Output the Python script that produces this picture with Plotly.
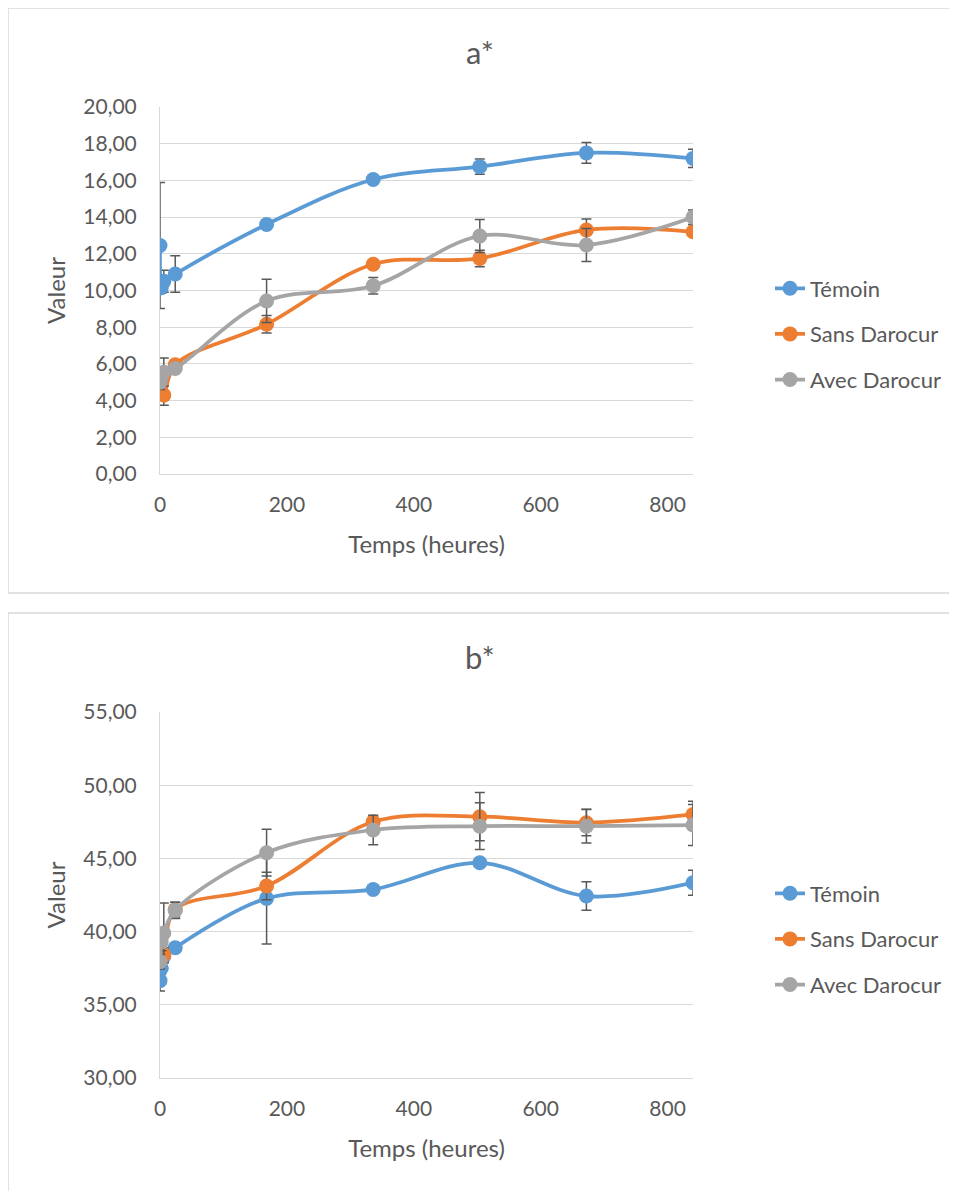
import plotly.graph_objects as go

# page is 957x1191, the html body adds an 8px margin
OFF = 8
W, H = 957 - OFF, 1191 - OFF

temps = [0, 2, 6, 24, 168, 336, 504, 672, 840]
series_names = ["Témoin", "Sans Darocur", "Avec Darocur"]

a_temoin = [12.45, 10.15, 10.5, 10.9, 13.6, 16.05, 16.75, 17.5, 17.2]
a_temoin_err = [3.43, 0.3, 0.6, 1.0, 0.15, 0.15, 0.42, 0.56, 0.5]
a_sans = [4.85, 5.0, 4.3, 5.95, 8.16, 11.43, 11.75, 13.3, 13.2]
a_sans_err = [0.3, 0.3, 0.55, 0.15, 0.48, 0.2, 0.45, 0.6, 0.2]
a_avec = [5.0, 5.3, 5.55, 5.75, 9.43, 10.26, 12.97, 12.48, 13.99]
a_avec_err = [0.4, 0.5, 0.77, 0.2, 1.18, 0.45, 0.9, 0.9, 0.4]

b_temoin = [36.65, 37.5, 38.3, 38.9, 42.27, 42.88, 44.7, 42.43, 43.34]
b_temoin_err = [0.7, 0.4, 0.4, 0.3, 3.12, 0.3, 0.3, 0.97, 0.85]
b_sans = [38.0, 38.2, 38.4, 41.5, 43.11, 47.5, 47.85, 47.44, 48.0]
b_sans_err = [0.4, 0.4, 0.5, 0.5, 0.94, 0.4, 1.65, 0.9, 0.9]
b_avec = [37.95, 39.3, 39.9, 41.45, 45.39, 46.94, 47.2, 47.2, 47.28]
b_avec_err = [0.5, 0.6, 2.05, 0.55, 1.6, 1.0, 1.6, 1.15, 1.4]

colors = ["#5B9BD5", "#ED7D31", "#A5A5A5"]
FONT = "Lato"
TXT = "#595959"

def px_x(p):
    return (p - OFF) / W

def px_y(p):
    return 1 - (p - OFF) / H

fig = go.Figure()

panels = [
    ("x", "y", "legend", [a_temoin, a_sans, a_avec], [a_temoin_err, a_sans_err, a_avec_err]),
    ("x2", "y2", "legend2", [b_temoin, b_sans, b_avec], [b_temoin_err, b_sans_err, b_avec_err]),
]

for xa, ya, leg, vals, errs in panels:
    for i, name in enumerate(series_names):
        fig.add_trace(go.Scatter(
            x=temps, y=vals[i], name=name, xaxis=xa, yaxis=ya, legend=leg,
            legendgroup=leg + str(i),
            mode="lines+markers",
            line=dict(color=colors[i], width=3.75, shape="spline", smoothing=1),
            marker=dict(color=colors[i], size=15, symbol="circle"),
            error_y=dict(type="data", array=errs[i], visible=True,
                         color="#595959", thickness=1.5, width=5),
        ))

axis_common = dict(
    zeroline=False, showline=True, linecolor="#d9d9d9", linewidth=1,
    tickfont=dict(family=FONT, size=21, color=TXT),
    ticks="outside", tickcolor="rgba(0,0,0,0)", automargin=False,
)
title_font = dict(family=FONT, size=24, color=TXT)

xdom = [px_x(160), px_x(693)]
fig.update_layout(
    width=W, height=H, margin=dict(l=0, r=0, t=0, b=0, autoexpand=False),
    paper_bgcolor="white", plot_bgcolor="white",
    separators=", ",
    showlegend=True,
    xaxis=dict(domain=xdom, range=[0, 840], tickvals=[0, 200, 400, 600, 800], ticklen=12,
               anchor="y", showgrid=False,
               title=dict(text="Temps (heures)", font=title_font, standoff=20),
               **axis_common),
    yaxis=dict(domain=[px_y(474), px_y(107)], range=[0, 20], dtick=2, tickformat=".2f",
               ticklen=18, anchor="x", showgrid=True, gridcolor="#d9d9d9", gridwidth=1,
               title=dict(text="Valeur", font=title_font, standoff=10),
               **axis_common),
    xaxis2=dict(domain=xdom, range=[0, 840], tickvals=[0, 200, 400, 600, 800], ticklen=12,
                anchor="y2", showgrid=False,
                title=dict(text="Temps (heures)", font=title_font, standoff=20),
                **axis_common),
    yaxis2=dict(domain=[px_y(1078), px_y(712)], range=[30, 55], dtick=5, tickformat=".2f",
                ticklen=18, anchor="x2", showgrid=True, gridcolor="#d9d9d9", gridwidth=1,
                title=dict(text="Valeur", font=title_font, standoff=10),
                **axis_common),
    legend=dict(x=px_x(770), y=px_y(334), xanchor="left", yanchor="middle",
                bgcolor="rgba(0,0,0,0)", font=dict(family=FONT, size=22, color=TXT),
                traceorder="grouped", tracegroupgap=14),
    legend2=dict(x=px_x(770), y=px_y(939), xanchor="left", yanchor="middle",
                 bgcolor="rgba(0,0,0,0)", font=dict(family=FONT, size=22, color=TXT),
                 traceorder="grouped", tracegroupgap=14),
    shapes=[
        dict(type="rect", xref="paper", yref="paper", x0=px_x(8), x1=1.05, y0=px_y(593), y1=px_y(8),
             line=dict(color="#d9d9d9", width=1.5), layer="below"),
        dict(type="rect", xref="paper", yref="paper", x0=px_x(8), x1=1.05, y0=-0.05, y1=px_y(613),
             line=dict(color="#d9d9d9", width=1.5), layer="below"),
    ],
    annotations=[
        dict(text="a*", xref="paper", yref="paper", x=px_x(480), y=px_y(52), showarrow=False,
             font=dict(family=FONT, size=31, color=TXT), xanchor="center", yanchor="middle"),
        dict(text="b*", xref="paper", yref="paper", x=px_x(480), y=px_y(657), showarrow=False,
             font=dict(family=FONT, size=31, color=TXT), xanchor="center", yanchor="middle"),
    ],
)

fig.write_html("out.html")
